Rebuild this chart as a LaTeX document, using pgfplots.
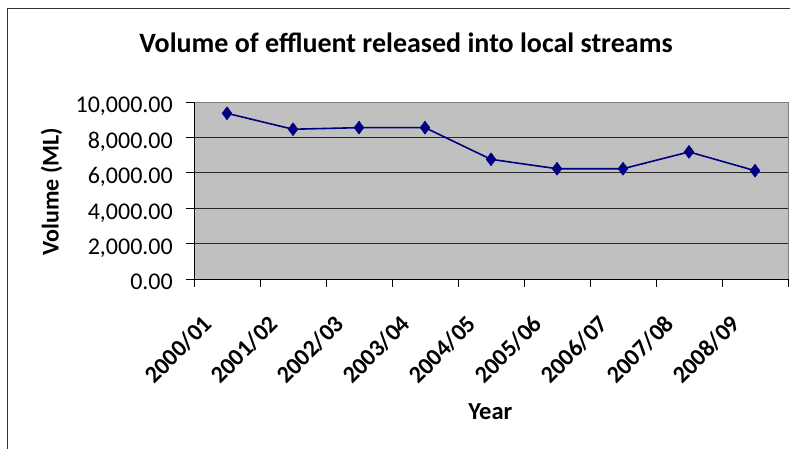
\documentclass[border=0pt]{standalone}
\usepackage{fontspec}
\setmainfont{Carlito}
\usepackage{pgfplots}
\pgfplotsset{compat=1.18}
\definecolor{plotbg}{HTML}{C0C0C0}
\definecolor{navyline}{HTML}{000080}
\begin{document}
\begin{tikzpicture}[x=1bp,y=1bp]
\useasboundingbox (0,0) rectangle (790,449);
\draw[black!80, line width=0.9bp] (7,-5) -- (7,441) -- (795,441);
\begin{axis}[
  at={(194bp,170bp)}, anchor=south west,
  scale only axis, width=594bp, height=177bp,
  xmin=0.5, xmax=9.5, ymin=0, ymax=10000,
  axis background/.style={fill=plotbg, draw=black!50, line width=0.9bp},
  axis x line*=bottom, axis y line*=left,
  axis line style={-, black, line width=0.9bp},
  tick align=outside, major tick length=8bp,
  tick style={black, line width=0.9bp},
  xtick={0.5,1.5,...,9.5}, xticklabels={},
  extra x ticks={1,2,...,9},
  extra x tick labels={2000/01,2001/02,2002/03,2003/04,2004/05,2005/06,2006/07,2007/08,2008/09},
  extra x tick style={major tick length=0pt,
    xticklabel style={font=\bfseries\fontsize{24bp}{24bp}\selectfont, inner sep=0pt,
      xshift=-19bp, yshift=-41bp, rotate=45, anchor=east}},
  scaled y ticks=false,
  ytick={0,2000,...,10000},
  extra y ticks={2000,4000,6000,8000}, extra y tick labels={},
  extra y tick style={grid=major},
  major grid style={black!85, line width=0.8bp},
  yticklabel style={font=\fontsize{24bp}{24bp}\selectfont, inner sep=0pt, anchor=base east, xshift=-13bp, yshift=-11bp},
  /pgf/number format/.cd, fixed, fixed zerofill, precision=2, 1000 sep={,}, assume math mode=true, /pgfplots/.cd,
  title={Volume of effluent released into local streams},
  every axis title/.style={at={(axis description cs:0.357,1.277)}, anchor=base, font=\bfseries\fontsize{28bp}{28bp}\selectfont, inner sep=0pt},
  xlabel={Year},
  every axis x label/.style={at={(axis description cs:0.499,-0.791)}, anchor=base, font=\bfseries\fontsize{24.5bp}{24.5bp}\selectfont, inner sep=0pt},
  ylabel={Volume (ML)},
  every axis y label/.style={at={(axis description cs:-0.240,0.494)}, anchor=center, rotate=90, font=\bfseries\fontsize{24bp}{24bp}\selectfont, inner sep=0pt},
]
\addplot[navyline, line width=1.6bp, mark=diamond*, mark size=6.5bp, mark options={fill=navyline, draw=navyline, line width=0.5bp}]
  coordinates {(1,9360) (2,8460) (3,8550) (4,8550) (5,6760) (6,6230) (7,6230) (8,7180) (9,6120)};
\end{axis}
\end{tikzpicture}
\end{document}
